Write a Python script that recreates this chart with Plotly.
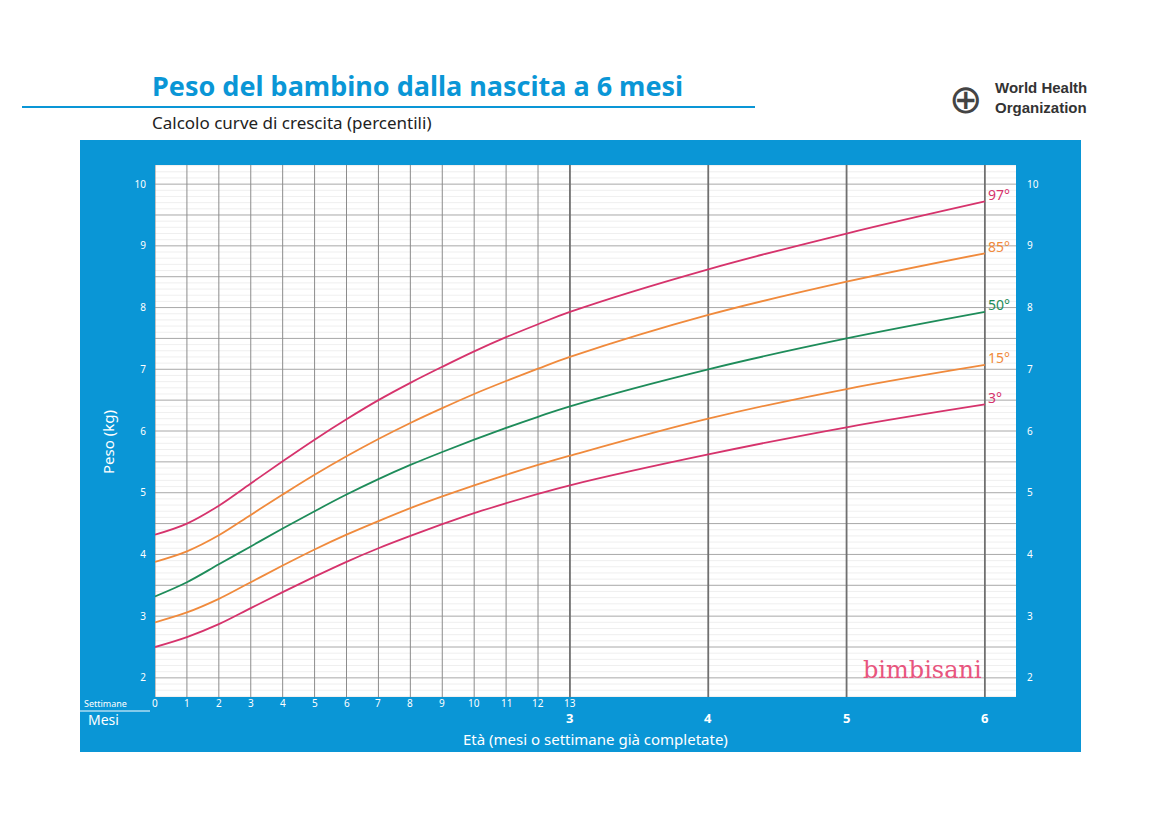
import plotly.graph_objects as go

# ages: weeks 0-13, then months 4, 5, 6
weeks = list(range(14))
months_after = [4, 5, 6]
ages = [w * 3 / 13 for w in weeks] + months_after

p3 = [2.5, 2.66, 2.87, 3.13, 3.39, 3.64, 3.88, 4.10, 4.30, 4.49, 4.67, 4.83, 4.98, 5.12, 5.62, 6.06, 6.43]
p15 = [2.9, 3.06, 3.28, 3.55, 3.82, 4.08, 4.32, 4.54, 4.75, 4.94, 5.12, 5.29, 5.45, 5.6, 6.2, 6.68, 7.07]
p50 = [3.32, 3.55, 3.84, 4.13, 4.42, 4.70, 4.97, 5.22, 5.45, 5.66, 5.86, 6.05, 6.23, 6.4, 7.0, 7.5, 7.93]
p85 = [3.88, 4.05, 4.31, 4.64, 4.97, 5.29, 5.59, 5.87, 6.13, 6.37, 6.60, 6.81, 7.01, 7.2, 7.88, 8.42, 8.88]
p97 = [4.32, 4.50, 4.79, 5.15, 5.51, 5.86, 6.19, 6.50, 6.78, 7.04, 7.29, 7.52, 7.73, 7.93, 8.62, 9.2, 9.72]

series = [("97°", p97, "#D6336C"), ("85°", p85, "#F08A3C"), ("50°", p50, "#1E8C5A"),
          ("15°", p15, "#F08A3C"), ("3°", p3, "#D6336C")]
kg_ticks = list(range(2, 11))
month_ticks = [3, 4, 5, 6]

BLUE = "#0A96D6"
# page is drawn 8px in from the window corner
W, H = 1144, 804
L, T, R, B = 147, 157, 136, 115
PW, PH = W - L - R, H - T - B


def px(X):
    return (X - 8 - L) / PW


def py(Y):
    return (H - B - (Y - 8)) / PH


def txt(X, Y, text, size, color="white", xanchor="center", **kw):
    return dict(x=px(X), y=py(Y), xref="paper", yref="paper", text=text, showarrow=False,
                xanchor=xanchor, yanchor="middle",
                font=dict(color=color, size=size, family=kw.pop("family", "Noto Sans")), **kw)


fig = go.Figure()
ann = []
for name, vals, col in series:
    fig.add_trace(go.Scatter(x=ages, y=vals, mode="lines", line=dict(color=col, width=1.8, shape="spline"),
                             name=name, showlegend=False, hoverinfo="skip"))
    ann.append(dict(x=6, y=vals[-1], xref="x", yref="y", text=name, showarrow=False, xanchor="left",
                    yanchor="middle", xshift=1, yshift=7, font=dict(color=col, size=14)))
fig.add_trace(go.Scatter(x=[0], y=[5], yaxis="y2", mode="markers", marker=dict(opacity=0),
                         showlegend=False, hoverinfo="skip"))

shapes = [
    dict(type="rect", xref="paper", yref="paper", x0=px(80), x1=px(1081), y0=py(752), y1=py(140),
         fillcolor=BLUE, line_width=0, layer="below"),
    dict(type="rect", xref="paper", yref="paper", x0=0, x1=1, y0=0, y1=1,
         fillcolor="white", line_width=0, layer="below"),
    dict(type="line", xref="paper", yref="paper", x0=px(22), x1=px(755), y0=py(107), y1=py(107),
         line=dict(color=BLUE, width=2)),
    dict(type="line", xref="paper", yref="paper", x0=px(80), x1=px(150), y0=py(711), y1=py(711),
         line=dict(color="white", width=1)),
]
for i in range(17, 104):
    if i % 5 == 0:
        continue
    v = i / 10
    shapes.append(dict(type="line", xref="paper", yref="y", x0=0, x1=1, y0=v, y1=v,
                       line=dict(color="#E4E4E4", width=0.6), layer="below"))
for i in range(4, 21):
    v = i / 2
    shapes.append(dict(type="line", xref="paper", yref="y", x0=0, x1=1, y0=v, y1=v,
                       line=dict(color="#A8A8A8", width=1), layer="below"))
for w in weeks[:-1]:
    shapes.append(dict(type="line", xref="x", yref="paper", x0=w * 3 / 13, x1=w * 3 / 13, y0=0, y1=1,
                       line=dict(color="#8C8C8C", width=1), layer="below"))
for m in month_ticks:
    shapes.append(dict(type="line", xref="x", yref="paper", x0=m, x1=m, y0=0, y1=1,
                       line=dict(color="#707070", width=1.8), layer="below"))

for w in weeks:
    ann.append(dict(x=w * 3 / 13, y=py(703), xref="x", yref="paper", text=str(w), showarrow=False,
                    xanchor="center", yanchor="middle", font=dict(color="white", size=10)))
for m in month_ticks:
    ann.append(dict(x=m, y=py(718), xref="x", yref="paper", text="<b>%d</b>" % m, showarrow=False,
                    xanchor="center", yanchor="middle", font=dict(color="white", size=13)))
ann += [
    txt(82, 703, "Settimane", 9, xanchor="left"),
    txt(86, 719, "Mesi", 14, xanchor="left"),
    txt(595, 739, "Età (mesi o settimane già completate)", 15),
    txt(108, 442, "Peso (kg)", 15, textangle=-90),
    txt(150, 85, "<b>Peso del bambino dalla nascita a 6 mesi</b>", 27, color=BLUE, xanchor="left"),
    txt(150, 122, "Calcolo curve di crescita (percentili)", 17, color="#222", xanchor="left"),
    txt(993, 98, "<b>World Health<br>Organization</b>", 15, color="#333", xanchor="left",
        align="left", family="Liberation Sans"),
    txt(966, 98, "⊕", 40, color="#444"),
    txt(922, 670, "bimbisani", 24, color="#E8557E", family="DejaVu Serif"),
]

yax = dict(range=[1.69, 10.31], showgrid=False, zeroline=False, tickvals=kg_ticks, ticks="",
           tickfont=dict(color="white", size=10), fixedrange=True)
fig.update_layout(
    width=W, height=H, paper_bgcolor="white", plot_bgcolor="white",
    margin=dict(l=L, r=R, t=T, b=B),
    font=dict(family="Noto Sans"),
    shapes=shapes, annotations=ann,
    xaxis=dict(range=[0, 6.225], showgrid=False, showticklabels=False, zeroline=False, fixedrange=True),
    yaxis=dict(yax, ticklabelstandoff=8),
    yaxis2=dict(yax, overlaying="y", side="right", ticklabelstandoff=10),
)

fig.write_html("out.html")
